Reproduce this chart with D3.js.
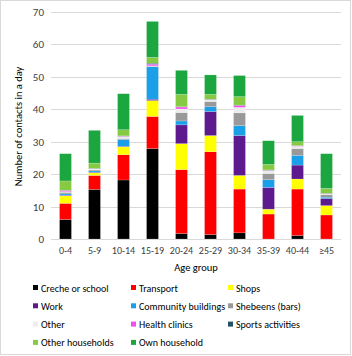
<!DOCTYPE html>
<html lang="en">
  <head>
    <meta charset="UTF-8" />
    <title>Contacts by age group</title>
    <style>
      body {
        margin: 0;
        padding: 0;
        background: #fff;
        font-family: Carlito, Calibri, Lato, sans-serif;
      }
      svg {
        display: block;
      }
    </style>
  </head>
  <body>
    <script src="https://cdn.jsdelivr.net/npm/d3@7"></script>
    <script>
      const ageGroups = ['0-4', '5-9', '10-14', '15-19', '20-24', '25-29', '30-34', '35-39', '40-44', '≥45'];

      // one array per place of contact, bottom of the stack first
      const creche = [6.0, 15.3, 18.2, 27.9, 1.7, 1.4, 1.9, 0, 1.1, 0];
      const transport = [5.0, 4.3, 7.8, 9.9, 19.7, 25.5, 13.5, 7.7, 14.3, 7.4];
      const shops = [2.3, 0.8, 2.4, 4.9, 8.0, 5.0, 4.2, 1.5, 3.1, 2.9];
      const work = [0.2, 0.2, 0.2, 0.4, 5.8, 7.4, 12.3, 6.7, 4.3, 2.2];
      const community = [0.4, 0.4, 2.1, 10.0, 1.2, 1.5, 3.1, 2.4, 3.0, 0.4];
      const shebeens = [0.5, 0.3, 0.3, 0.2, 2.6, 1.6, 3.9, 1.9, 2.1, 0.8];
      const other = [0.2, 0.3, 0.6, 0.1, 1.1, 0.5, 1.7, 0.9, 0.7, 0.2];
      const health = [0.3, 0.1, 0.1, 0.5, 0.6, 0.1, 0.6, 0.1, 0.1, 0.1];
      const sports = [0.1, 0.1, 0.1, 0.3, 0.1, 0.1, 0.1, 0.1, 0.1, 0.1];
      const otherHouseholds = [2.9, 1.6, 1.9, 1.8, 3.8, 1.5, 2.6, 1.7, 1.2, 1.5];
      const ownHousehold = [8.4, 10.1, 11.1, 11.1, 7.4, 6.0, 6.5, 7.3, 8.1, 10.7];

      const seriesNames = [
        'Creche or school', 'Transport', 'Shops', 'Work', 'Community buildings',
        'Shebeens (bars)', 'Other', 'Health clinics', 'Sports activities',
        'Other households', 'Own household'
      ];
      const seriesValues = [creche, transport, shops, work, community, shebeens, other, health, sports, otherHouseholds, ownHousehold];
      const seriesColors = [
        '#000000', '#ff0000', '#ffff00', '#5c1a8e', '#1a9fe8',
        '#999999', '#ececec', '#f54cf0', '#1f5468', '#86c942', '#1ba640'
      ];
      const yTicks = [0, 10, 20, 30, 40, 50, 60, 70];

      const width = 352;
      const height = 356;
      const margin = { top: 12, right: 11, bottom: 117, left: 51 };

      // build rows for d3.stack
      const rows = ageGroups.map((g, i) => {
        const row = { age: g };
        seriesNames.forEach((s, j) => (row[s] = seriesValues[j][i]));
        return row;
      });
      const stacked = d3.stack().keys(seriesNames)(rows);

      const svg = d3.select('body').append('svg').attr('width', width).attr('height', height);

      // chart border
      svg.append('rect')
        .attr('x', 0.5).attr('y', 0.5)
        .attr('width', width - 2).attr('height', height - 2)
        .attr('fill', '#fff').attr('stroke', '#d9d9d9');

      const x = d3.scaleBand().domain(ageGroups)
        .range([margin.left, width - margin.right])
        .paddingInner(0.59).paddingOuter(0.295);
      const y = d3.scaleLinear().domain([0, 70]).range([height - margin.bottom, margin.top]);

      // grid lines
      svg.append('g')
        .selectAll('line')
        .data(yTicks)
        .join('line')
        .attr('x1', margin.left).attr('x2', width - margin.right)
        .attr('y1', (d) => Math.round(y(d)) + 0.5).attr('y2', (d) => Math.round(y(d)) + 0.5)
        .attr('stroke', '#d9d9d9').attr('stroke-width', 1);

      // y axis labels
      const yAxis = svg.append('g')
        .attr('transform', `translate(${margin.left - 7},0)`)
        .call(d3.axisLeft(y).tickValues(yTicks).tickSize(0).tickPadding(0));
      yAxis.select('.domain').remove();
      yAxis.selectAll('text').attr('font-size', 11).attr('fill', '#404040')
        .attr('font-family', 'Carlito, Calibri, Lato, sans-serif');

      // x axis labels
      const xAxis = svg.append('g')
        .attr('transform', `translate(0,${height - margin.bottom + 6})`)
        .call(d3.axisBottom(x).tickSize(0).tickPadding(2));
      xAxis.select('.domain').remove();
      xAxis.selectAll('text').attr('font-size', 10).attr('fill', '#404040')
        .attr('font-family', 'Carlito, Calibri, Lato, sans-serif');

      // stacked bars
      svg.append('g')
        .selectAll('g')
        .data(stacked)
        .join('g')
        .attr('fill', (d, i) => seriesColors[i])
        .selectAll('rect')
        .data((d) => d)
        .join('rect')
        .attr('x', (d) => x(d.data.age))
        .attr('width', x.bandwidth())
        .attr('y', (d) => y(d[1]))
        .attr('height', (d) => Math.max(0, y(d[0]) - y(d[1])))
        .attr('stroke', '#fff').attr('stroke-opacity', 0.35).attr('stroke-width', 0.5);

      // axis titles
      svg.append('text')
        .attr('x', (margin.left + width - margin.right) / 2)
        .attr('y', 271)
        .attr('text-anchor', 'middle')
        .attr('font-size', 10.5).attr('fill', '#000')
        .text('Age group');

      svg.append('text')
        .attr('transform', `translate(22,${(y(0) + y(70)) / 2 + 1}) rotate(-90)`)
        .attr('text-anchor', 'middle')
        .attr('font-size', 10.5).attr('fill', '#000')
        .text('Number of contacts in a day');

      // legend, three columns
      const legendCols = [33, 131, 228];
      const legend = svg.append('g')
        .selectAll('g')
        .data(seriesNames)
        .join('g')
        .attr('transform', (d, i) => `translate(${legendCols[i % 3]},${288 + Math.floor(i / 3) * 18.3})`);
      legend.append('rect')
        .attr('x', 0).attr('y', -3)
        .attr('width', 5).attr('height', 5)
        .attr('fill', (d, i) => seriesColors[i]);
      legend.append('text')
        .attr('x', 8).attr('y', 3.5)
        .attr('font-size', 10).attr('fill', '#000')
        .text((d) => d);
    </script>
  </body>
</html>
